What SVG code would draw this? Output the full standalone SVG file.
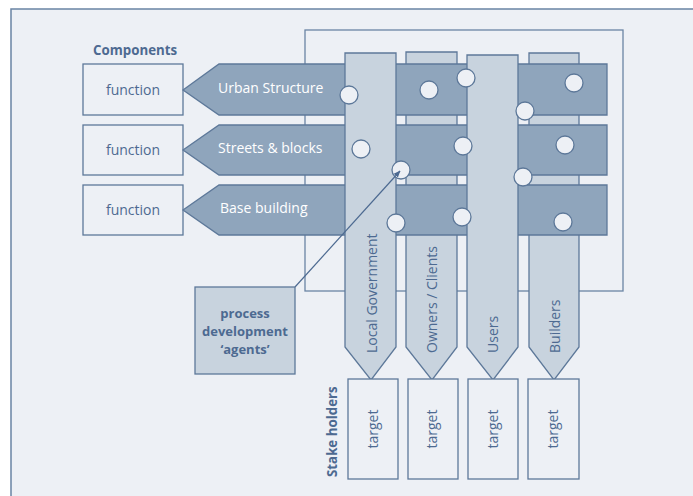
<svg xmlns="http://www.w3.org/2000/svg" width="693" height="496" viewBox="0 0 693 496">
<defs>
<style>
.frame{fill:none;stroke:#6a84a4;stroke-width:1.3}
.box{fill:#edf0f5;stroke:#5d7899;stroke-width:1.3}
.band{fill:#8fa5bc;stroke:#5d7899;stroke-width:1.3}
.col{fill:#c8d3de;stroke:#5d7899;stroke-width:1.3}
.dot{fill:#edf0f5;stroke:#5d7899;stroke-width:1.3}
.t{font-family:"Open Sans","Noto Sans",sans-serif;font-size:14px;fill:#4d6a91}
.w{font-family:"Open Sans","Noto Sans",sans-serif;font-size:14px;fill:#ffffff}
.b{font-family:"Open Sans","Noto Sans",sans-serif;font-size:13.3px;font-weight:bold;fill:#4d6a91}
.p{font-family:"Open Sans","Noto Sans",sans-serif;font-size:13px;font-weight:bold;fill:#4d6a91}
</style>
<marker id="ah" viewBox="0 0 10 10" refX="9" refY="5" markerWidth="7" markerHeight="7" orient="auto" markerUnits="userSpaceOnUse">
<path d="M0,1 L10,5 L0,9 z" fill="#4d6a91"/>
</marker>
</defs>
<rect x="0" y="0" width="693" height="496" fill="#ffffff"/>
<rect x="11" y="9" width="700" height="500" fill="#edf0f5" stroke="#6a84a4" stroke-width="1.5"/>
<g id="inner-frame"><rect class="frame" x="305" y="30" width="318" height="261"/></g>
<text class="b" x="93" y="55">Components</text>
<g id="function-1"><rect class="box" x="83" y="64" width="100" height="51"/><text class="t" x="133" y="95" text-anchor="middle">function</text></g>
<g id="function-2"><rect class="box" x="83" y="125" width="100" height="50"/><text class="t" x="133" y="155" text-anchor="middle">function</text></g>
<g id="function-3"><rect class="box" x="83" y="185" width="100" height="50"/><text class="t" x="133" y="215" text-anchor="middle">function</text></g>
<g id="col-owners"><polygon class="col" points="406,52 457,52 457,347 432,380 406,347"/><text class="t" transform="translate(437,353) rotate(-90)">Owners / Clients</text></g>
<g id="col-builders"><polygon class="col" points="529,53 579,53 579,347 554,380 529,347"/><text class="t" transform="translate(560,353) rotate(-90)">Builders</text></g>
<g id="band-urban"><polygon class="band" points="183,90 219,64 607,64 607,115 219,115"/><text class="w" x="218" y="93">Urban Structure</text></g>
<g id="band-streets"><polygon class="band" points="183,150 219,125 607,125 607,175 219,175"/><text class="w" x="218" y="153">Streets &amp; blocks</text></g>
<g id="band-base"><polygon class="band" points="183,210 219,185 607,185 607,235 219,235"/><text class="w" x="220" y="213">Base building</text></g>
<g id="col-local"><polygon class="col" points="345,53 396,53 396,347 371,380 345,347"/><text class="t" transform="translate(377,353) rotate(-90)">Local Government</text></g>
<g id="col-users"><polygon class="col" points="467,55 518,55 518,347 493,380 467,347"/><text class="t" transform="translate(498,353) rotate(-90)">Users</text></g>
<g id="dots">
<circle class="dot" cx="349" cy="95" r="9"/>
<circle class="dot" cx="429" cy="90" r="9"/>
<circle class="dot" cx="466" cy="78" r="9"/>
<circle class="dot" cx="574" cy="83" r="9"/>
<circle class="dot" cx="525" cy="111" r="9"/>
<circle class="dot" cx="361" cy="149" r="9"/>
<circle class="dot" cx="401" cy="170" r="9"/>
<circle class="dot" cx="463" cy="146" r="9"/>
<circle class="dot" cx="565" cy="145" r="9"/>
<circle class="dot" cx="523" cy="177" r="9"/>
<circle class="dot" cx="396" cy="223" r="9"/>
<circle class="dot" cx="462" cy="217" r="9"/>
<circle class="dot" cx="563" cy="222" r="9"/>
</g>
<g id="connectors"><line x1="295" y1="287" x2="400" y2="171" stroke="#4d6a91" stroke-width="1.2" marker-end="url(#ah)"/></g>
<g id="process-agents"><rect x="195" y="287" width="100" height="87" fill="#c8d3de" stroke="#5d7899" stroke-width="1.3"/>
<text class="p" text-anchor="middle"><tspan x="245" y="318">process</tspan><tspan x="245" y="336">development</tspan><tspan x="245" y="354">‘agents’</tspan></text></g>
<text class="b" transform="translate(337,477) rotate(-90)">Stake holders</text>
<g id="target-1"><rect class="box" x="348" y="379" width="50" height="100"/><text class="t" transform="translate(378,429) rotate(-90)" text-anchor="middle">target</text></g>
<g id="target-2"><rect class="box" x="408" y="379" width="50" height="100"/><text class="t" transform="translate(437,429) rotate(-90)" text-anchor="middle">target</text></g>
<g id="target-3"><rect class="box" x="468" y="379" width="50" height="100"/><text class="t" transform="translate(498,429) rotate(-90)" text-anchor="middle">target</text></g>
<g id="target-4"><rect class="box" x="528" y="379" width="51" height="100"/><text class="t" transform="translate(558,429) rotate(-90)" text-anchor="middle">target</text></g>
</svg>
